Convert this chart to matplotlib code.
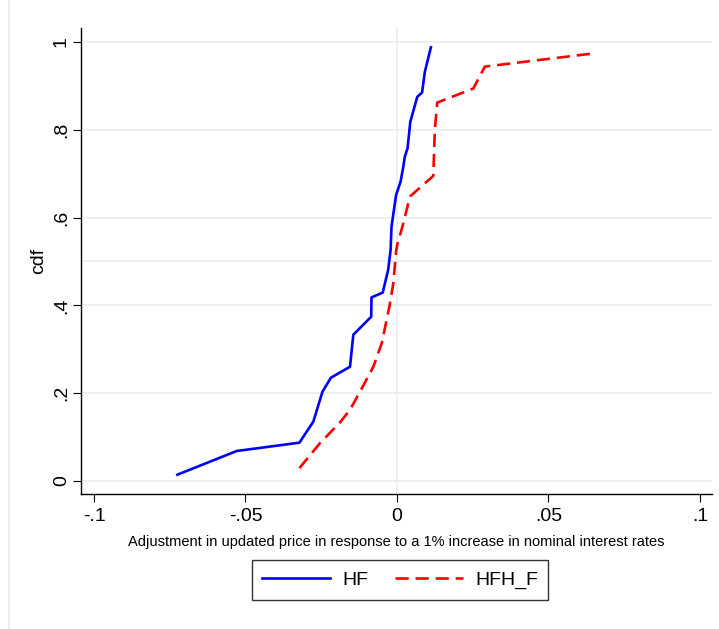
import matplotlib
matplotlib.use("Agg")
import matplotlib.pyplot as plt
from matplotlib import font_manager
from matplotlib.lines import Line2D

names = {f.name for f in font_manager.fontManager.ttflist}
FONT = "Liberation Sans Narrow" if "Liberation Sans Narrow" in names else "Liberation Sans"
plt.rcParams['font.family'] = [FONT, 'DejaVu Sans']

# Data
hf_x = [-0.0725, -0.0529, -0.0322, -0.0276, -0.0246, -0.0218, -0.0155, -0.0144,
        -0.0085, -0.0084, -0.0047, -0.0029, -0.0021, -0.0018, -0.0003, 0.0012,
        0.0021, 0.0026, 0.0035, 0.0044, 0.0067, 0.0083, 0.0092, 0.0112]
hf_y = [0.014, 0.068, 0.087, 0.135, 0.203, 0.235, 0.260, 0.333,
        0.374, 0.418, 0.429, 0.481, 0.526, 0.579, 0.651, 0.682,
        0.716, 0.739, 0.758, 0.818, 0.875, 0.885, 0.932, 0.988]

hfh_x = [-0.0322, -0.0254, -0.0188, -0.0155, -0.0122, -0.0078, -0.0050, -0.0025,
         -0.0012, -0.0003, 0.0001, 0.0021, 0.0043, 0.0120, 0.0125, 0.0133,
         0.0252, 0.0290, 0.0648]
hfh_y = [0.029, 0.086, 0.133, 0.162, 0.203, 0.260, 0.314, 0.397,
         0.450, 0.522, 0.538, 0.587, 0.648, 0.695, 0.800, 0.862,
         0.894, 0.944, 0.974]

x_ticks = [-0.1, -0.05, 0, 0.05, 0.1]
x_ticklabels = ["-.1", "-.05", "0", ".05", ".1"]
y_ticks = [0, 0.2, 0.4, 0.6, 0.8, 1]
y_ticklabels = ["0", ".2", ".4", ".6", ".8", "1"]

W, H = 719, 629
fig = plt.figure(figsize=(W / 100, H / 100), dpi=100)
fig.patch.set_facecolor('white')

ax = fig.add_axes([81 / W, 1 - 494 / H, (712 - 81) / W, (494 - 28) / H])
ax.set_xlim(-0.1043, 0.104)
ax.set_ylim(-0.030, 1.032)

grid_c = '#e8eff1'
for yv in y_ticks + [0.5]:
    ax.axhline(yv, color=grid_c, lw=1.2, zorder=0)
ax.axvline(0, color=grid_c, lw=1.2, zorder=0)

ax.plot(hf_x, hf_y, color='#0000ff', lw=1.9, label='HF', zorder=3)
ax.plot(hfh_x, hfh_y, color='#ff0000', lw=1.9, dashes=(5, 2.6), label='HFH_F', zorder=3)

for s in ['top', 'right']:
    ax.spines[s].set_visible(False)
for s in ['left', 'bottom']:
    ax.spines[s].set_color('black')
    ax.spines[s].set_linewidth(1.0)

ax.set_xticks(x_ticks)
ax.set_xticklabels(x_ticklabels, fontsize=14)
ax.set_yticks(y_ticks)
ax.set_yticklabels(y_ticklabels, fontsize=14, rotation=90, va='center')
ax.tick_params(axis='both', direction='out', length=6, width=0.8)
ax.tick_params(axis='x', pad=4)
ax.tick_params(axis='y', pad=2)

ax.set_xlabel("Adjustment in updated price in response to a 1% increase in nominal interest rates",
              fontsize=10.5, labelpad=7)
ax.set_ylabel("cdf", fontsize=14, labelpad=4)

leg = fig.legend(loc='center', bbox_to_anchor=(400 / W, 1 - 580 / H), ncol=2,
                 fontsize=14, frameon=True, fancybox=False, handlelength=3.5,
                 columnspacing=1.4, borderpad=0.55, handletextpad=0.6)
leg.get_frame().set_edgecolor('black')
leg.get_frame().set_linewidth(1.0)

# faint outer graph region border
fig.add_artist(Line2D([9 / W, 9 / W], [0, 1], color='#e8eff1', lw=1.2, transform=fig.transFigure))

fig.savefig('out.png', dpi=100, facecolor='white')
